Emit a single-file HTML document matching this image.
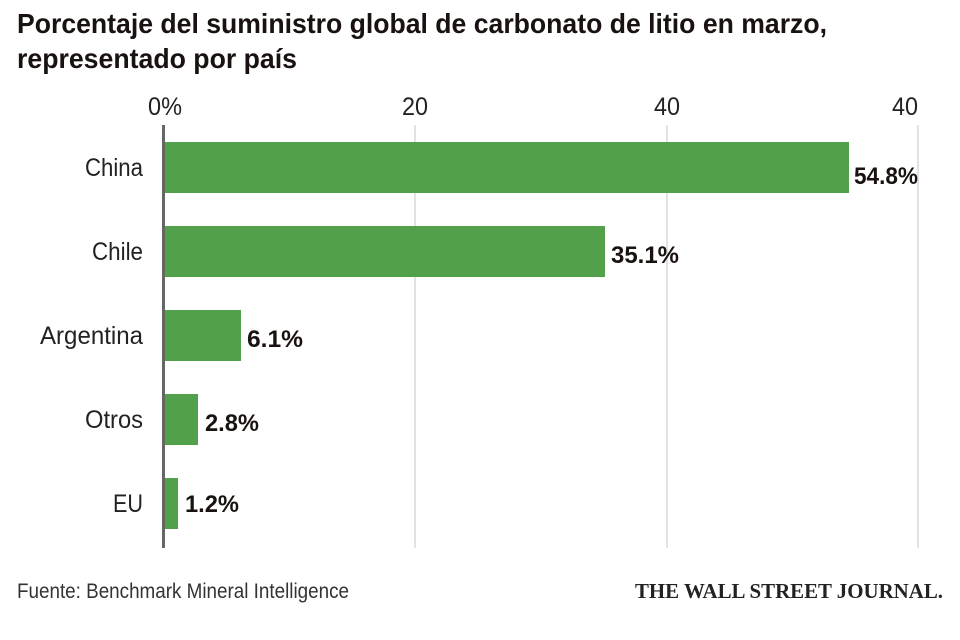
<!DOCTYPE html>
<html><head><meta charset="utf-8"><style>
html,body{margin:0;padding:0;background:#fff;}
svg{display:block;}
text{font-family:"Liberation Sans Narrow","Liberation Sans",sans-serif;}
</style></head><body>
<svg width="960" height="640" viewBox="0 0 960 640">
<rect width="960" height="640" fill="#fff"/>
<text x="17" y="33" font-size="28" font-weight="bold" fill="#1a1210" textLength="810" lengthAdjust="spacingAndGlyphs">Porcentaje del suministro global de carbonato de litio en marzo,</text>
<text x="17" y="68" font-size="28" font-weight="bold" fill="#1a1210" textLength="280" lengthAdjust="spacingAndGlyphs">representado por país</text>
<g font-size="25" fill="#222" text-anchor="middle">
<text x="165" y="115" textLength="34" lengthAdjust="spacingAndGlyphs">0%</text>
<text x="415" y="115" textLength="26" lengthAdjust="spacingAndGlyphs">20</text>
<text x="667" y="115" textLength="26" lengthAdjust="spacingAndGlyphs">40</text>
<text x="905" y="115" textLength="26" lengthAdjust="spacingAndGlyphs">40</text>
</g>
<g stroke="#e2e2e2" stroke-width="2">
<line x1="415" y1="125" x2="415" y2="548"/>
<line x1="667" y1="125" x2="667" y2="548"/>
<line x1="918" y1="125" x2="918" y2="548"/>
</g>
<g fill="#53a04a">
<rect x="165" y="142" width="684" height="51"/>
<rect x="165" y="226" width="440" height="51"/>
<rect x="165" y="310" width="76" height="51"/>
<rect x="165" y="394" width="33" height="51"/>
<rect x="165" y="478" width="13" height="51"/>
</g>
<line x1="163.5" y1="125" x2="163.5" y2="548" stroke="#666" stroke-width="3"/>
<g font-size="25" fill="#222" text-anchor="end">
<text x="143" y="176" textLength="58" lengthAdjust="spacingAndGlyphs">China</text>
<text x="143" y="260" textLength="51" lengthAdjust="spacingAndGlyphs">Chile</text>
<text x="143" y="344" textLength="103" lengthAdjust="spacingAndGlyphs">Argentina</text>
<text x="143" y="428" textLength="58" lengthAdjust="spacingAndGlyphs">Otros</text>
<text x="143" y="512" textLength="30" lengthAdjust="spacingAndGlyphs">EU</text>
</g>
<g font-size="24" fill="#1a1210" font-weight="bold">
<text x="854" y="184" textLength="64" lengthAdjust="spacingAndGlyphs">54.8%</text>
<text x="611" y="263" textLength="68" lengthAdjust="spacingAndGlyphs">35.1%</text>
<text x="247" y="347" textLength="56" lengthAdjust="spacingAndGlyphs">6.1%</text>
<text x="205" y="431" textLength="54" lengthAdjust="spacingAndGlyphs">2.8%</text>
<text x="185" y="512" textLength="54" lengthAdjust="spacingAndGlyphs">1.2%</text>
</g>
<text x="17" y="598" font-size="21" fill="#333" textLength="332" lengthAdjust="spacingAndGlyphs">Fuente: Benchmark Mineral Intelligence</text>
<text x="943" y="598" font-size="21" fill="#222" text-anchor="end" font-weight="bold" textLength="308" lengthAdjust="spacingAndGlyphs" style="font-family:'Liberation Serif',serif">THE WALL STREET JOURNAL.</text>
</svg>
</body></html>
